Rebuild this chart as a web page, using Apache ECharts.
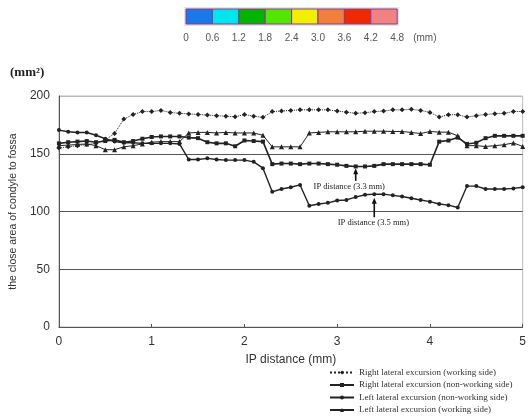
<!DOCTYPE html>
<html>
<head>
<meta charset="utf-8">
<script src="https://cdn.jsdelivr.net/npm/echarts@6/dist/echarts.min.js"></script>
<style>
html, body { margin: 0; background: #fff; }
#chart { width: 529px; height: 417px; }
</style>
</head>
<body>
<div id="chart"></div>
<script>
// IP distance (mm)
var ipDist = [0, 0.1, 0.2, 0.3, 0.4, 0.5, 0.6, 0.7, 0.8, 0.9,
    1, 1.1, 1.2, 1.3, 1.4, 1.5, 1.6, 1.7, 1.8, 1.9,
    2, 2.1, 2.2, 2.3, 2.4, 2.5, 2.6, 2.7, 2.8, 2.9,
    3, 3.1, 3.2, 3.3, 3.4, 3.5, 3.6, 3.7, 3.8, 3.9,
    4, 4.1, 4.2, 4.3, 4.4, 4.5, 4.6, 4.7, 4.8, 4.9, 5];

var rightWorking = [155, 156, 157, 158, 159, 162, 167.5, 180, 184, 186.5,
    186.5, 187.5, 185.8, 185, 184.5, 184, 183.5, 183, 182.5, 182,
    184, 182.5, 181.5, 186.5, 187, 187.5, 188, 188, 188, 188,
    187, 186, 185, 185.5, 186.5, 187, 188, 188, 188.5, 187.5,
    185.8, 181.8, 183.8, 183.8, 181.8, 183, 184, 184.6, 185, 186.6, 186.6];

var rightNonWorking = [159, 160, 160.5, 161, 160, 161, 162, 160, 161, 163,
    164.5, 165, 165, 165, 164, 163.5, 160, 159, 159, 156.5,
    161.5, 161, 160.5, 141, 141.5, 141.5, 141, 141.5, 141.5, 141,
    140.5, 139.5, 139, 139, 139.5, 141, 141, 141, 141, 141,
    140.5, 160.5, 161.5, 164, 158.5, 159.5, 163.5, 165.5, 165.5, 165.5, 165.5];

var leftNonWorking = [170.5, 169, 168.4, 168.4, 166, 163, 160.5, 159.5, 159.5, 159,
    159, 159, 159, 158.5, 145, 145, 146, 145, 144.5, 144.5,
    144.5, 143, 137.5, 117, 119.5, 121, 123, 105, 106.5, 107.5,
    109.5, 110, 112.5, 114.5, 115, 115, 114, 113, 111.5, 110,
    108.5, 106.5, 105.5, 103.5, 122, 122, 119.5, 119.5, 119.5, 120, 121];

var leftWorking = [157, 157.5, 158, 158.5, 157, 153.5, 153.5, 156, 157, 158.5,
    160, 160.5, 160.5, 160.5, 168, 168.5, 168.5, 168, 168.5, 168,
    168, 168, 166, 156, 156, 156, 156, 168, 168.5, 169,
    169, 169, 169, 169.5, 169.5, 169.5, 169.3, 169.3, 168.4, 167.5,
    169.3, 168.7, 168.7, 165.5, 157, 157, 156.3, 157, 157.8, 159.4, 156.3];

// colour scale at the top
var scaleColors = ['#1a78e8', '#00e6ef', '#00b400', '#55e600', '#f2f000', '#f0803c', '#f02a00', '#f08282'];
var scaleLabels = ['0', '0.6', '1.2', '1.8', '2.4', '3.0', '3.6', '4.2', '4.8'];

// arrow notes
var noteText = ['IP distance (3.3 mm)', 'IP distance (3.5 mm)'];
var noteX = [3.2, 3.4];
var noteTip = [137.5, 112];
var noteBase = [126.5, 95];
var noteTextX = [3.13, 3.39];

function pairs(ys) {
    return ipDist.map(function (x, i) { return [x, ys[i]]; });
}

var chart = echarts.init(document.getElementById('chart'));
var ink = '#222';
var labelFont = 'Liberation Sans';
var serifFont = 'Liberation Serif';

function lineSeries(name, ys, symbol, size, width, type) {
    return {
        name: name,
        type: 'line',
        data: pairs(ys),
        symbol: symbol,
        symbolSize: size,
        showSymbol: true,
        color: ink,
        itemStyle: { color: ink },
        lineStyle: { color: ink, width: width, type: type },
        animation: false
    };
}

var option = {
    animation: false,
    grid: {
        left: 54, right: 5, top: 96, bottom: 90,
        show: true, borderColor: '#bbb', borderWidth: 1, backgroundColor: '#fff'
    },
    xAxis: {
        type: 'value', min: 0, max: 5, interval: 1,
        name: 'IP distance (mm)', nameLocation: 'middle', nameGap: 27,
        nameTextStyle: { fontFamily: labelFont, fontSize: 12, color: '#333' },
        axisLine: { lineStyle: { color: '#555', width: 1 } },
        axisTick: { inside: true, length: 3, lineStyle: { color: '#555' } },
        axisLabel: { margin: 9, fontFamily: labelFont, fontSize: 12, color: '#333' },
        splitLine: { show: false }
    },
    yAxis: {
        type: 'value', min: 0, max: 200, interval: 50,
        name: 'the close area of condyle to fossa', nameLocation: 'middle', nameGap: 37,
        nameTextStyle: { fontFamily: labelFont, fontSize: 10.5, color: '#333' },
        axisLine: { show: true, lineStyle: { color: '#555', width: 1 } },
        axisTick: { show: false },
        axisLabel: { margin: 9, fontFamily: labelFont, fontSize: 12, color: '#333' },
        splitLine: { show: true, lineStyle: { color: ['#555', '#555', '#555', '#555', '#bbb'], width: 1 } }
    },
    legend: {
        orient: 'vertical', left: 324, top: 363, height: 54,
        itemWidth: 24, itemHeight: 5, itemGap: 3.5,
        textStyle: { fontFamily: serifFont, fontSize: 9, lineHeight: 9, color: '#333' },
        data: ['Right lateral excursion (working side)', 'Right lateral excursion (non-working side)',
            'Left lateral excursion (non-working side)', 'Left lateral excursion (working side)']
    },
    series: [
        lineSeries('Right lateral excursion (working side)', rightWorking, 'diamond', 5, 1, 'dotted'),
        lineSeries('Right lateral excursion (non-working side)', rightNonWorking, 'rect', 4, 1.6, 'solid'),
        lineSeries('Left lateral excursion (non-working side)', leftNonWorking, 'circle', 4, 1.4, 'solid'),
        lineSeries('Left lateral excursion (working side)', leftWorking, 'triangle', 5, 1, 'solid')
    ]
};
chart.setOption(option);

// top colour scale, unit label and arrow notes
var graphics = [];
var cellW = 26.4, barLeft = 186, barTop = 9, barH = 15;
graphics.push({
    type: 'rect', shape: { x: barLeft - 2, y: barTop - 2, width: cellW * scaleColors.length + 4, height: barH + 4 },
    style: { fill: '#e4e4e4', stroke: null }
});
scaleColors.forEach(function (c, i) {
    graphics.push({
        type: 'rect', shape: { x: barLeft + i * cellW, y: barTop, width: cellW, height: barH },
        style: { fill: c, stroke: '#8a3a8a', lineWidth: 1 }
    });
});
scaleLabels.forEach(function (t, i) {
    graphics.push({
        type: 'text', x: barLeft + i * cellW, y: 38,
        style: { text: t, fontFamily: labelFont, fontSize: 10, fill: '#555', align: 'center', verticalAlign: 'middle' }
    });
});
graphics.push({
    type: 'text', x: barLeft + scaleColors.length * cellW + 16, y: 38,
    style: { text: '(mm)', fontFamily: labelFont, fontSize: 10, fill: '#555', align: 'left', verticalAlign: 'middle' }
});
graphics.push({
    type: 'text', x: 10, y: 73,
    style: { text: '(mm²)', fontFamily: serifFont, fontSize: 13, fontWeight: 'bold', fill: '#222', align: 'left', verticalAlign: 'middle' }
});

noteText.forEach(function (t, i) {
    var tip = chart.convertToPixel({ gridIndex: 0 }, [noteX[i], noteTip[i]]);
    var base = chart.convertToPixel({ gridIndex: 0 }, [noteX[i], noteBase[i]]);
    var tpos = chart.convertToPixel({ gridIndex: 0 }, [noteTextX[i], noteBase[i]]);
    graphics.push({
        type: 'line', shape: { x1: base[0], y1: base[1], x2: tip[0], y2: tip[1] + 4 },
        style: { stroke: '#111', lineWidth: 1.6 }
    });
    graphics.push({
        type: 'polygon', shape: { points: [[tip[0], tip[1]], [tip[0] - 2.5, tip[1] + 6], [tip[0] + 2.5, tip[1] + 6]] },
        style: { fill: '#111' }
    });
    graphics.push({
        type: 'text', x: tpos[0], y: base[1] + 1,
        style: { text: t, fontFamily: serifFont, fontSize: 8.5, fill: '#222', align: 'center', verticalAlign: 'top' }
    });
});

chart.setOption({ graphic: graphics });
</script>
</body>
</html>
